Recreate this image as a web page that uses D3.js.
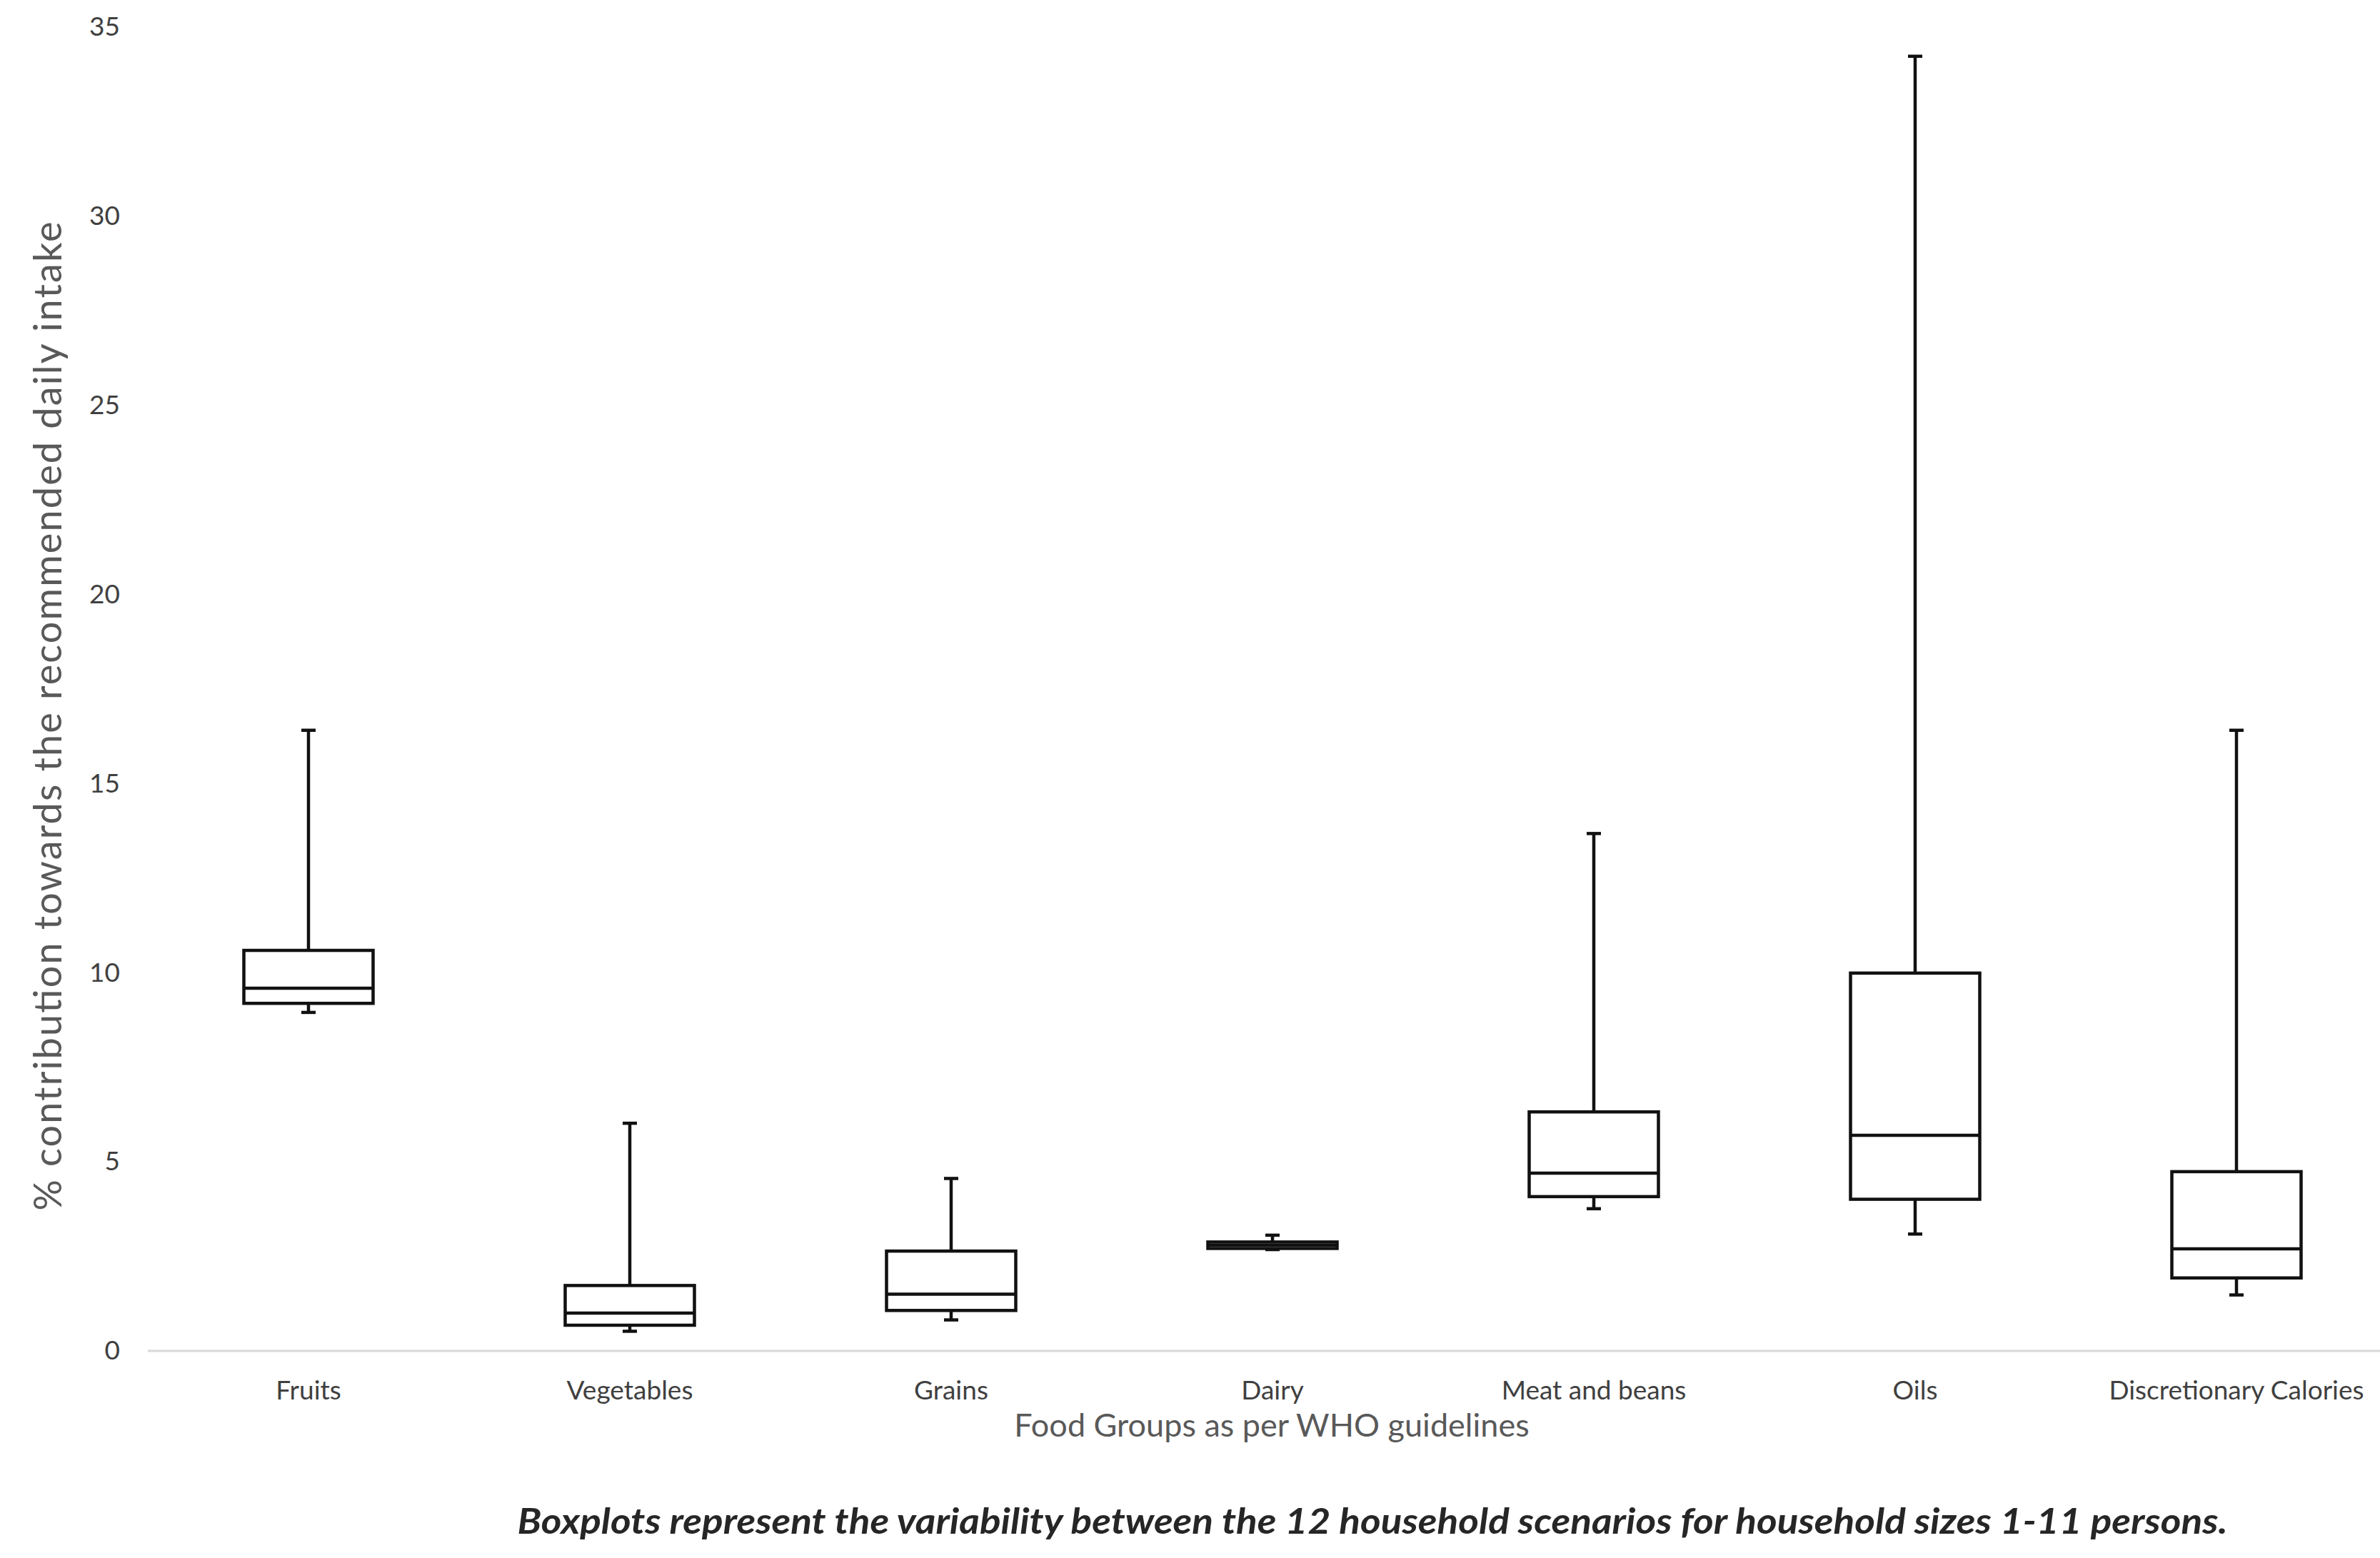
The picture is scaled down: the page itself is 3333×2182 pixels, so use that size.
<!DOCTYPE html>
<html>
<head>
<meta charset="utf-8">
<script src="https://cdn.jsdelivr.net/npm/d3@7"></script>
<style>
  body { margin: 0; background: #fff; overflow: hidden; }
  text { font-family: Lato, "Open Sans", sans-serif; }
</style>
</head>
<body>
<div id="vis"></div>
<script>
const groups = ["Fruits", "Vegetables", "Grains", "Dairy", "Meat and beans", "Oils", "Discretionary Calories"];
const whiskerMin = [8.95, 0.52, 0.82, 2.68, 3.76, 3.09, 1.48];
const q1 = [9.19, 0.68, 1.07, 2.71, 4.08, 4.01, 1.93];
const median = [9.59, 1.0, 1.5, 2.8, 4.7, 5.7, 2.7];
const q3 = [10.59, 1.73, 2.64, 2.88, 6.32, 9.99, 4.74];
const whiskerMax = [16.41, 6.02, 4.56, 3.06, 13.68, 34.23, 16.41];
const yTicks = [0, 5, 10, 15, 20, 25, 30, 35];

const W = 3333, H = 2182;
const margin = { top: 38, left: 207, bottom: 290 };
const plotBottom = H - margin.bottom;   // y of value 0

const svg = d3.select("#vis")
  .append("svg")
  .attr("width", W)
  .attr("height", H);

const x = d3.scaleBand()
  .domain(groups)
  .range([margin.left, margin.left + 7 * 450])
  .paddingInner(0)
  .paddingOuter(0);

const y = d3.scaleLinear()
  .domain([0, 35])
  .range([plotBottom, margin.top]);

const boxes = groups.map((g, i) => ({
  g, lo: whiskerMin[i], q1: q1[i], med: median[i], q3: q3[i], hi: whiskerMax[i]
}));

// zero baseline
svg.append("line")
  .attr("x1", margin.left)
  .attr("x2", W)
  .attr("y1", y(0))
  .attr("y2", y(0))
  .attr("stroke", "#d9d9d9")
  .attr("stroke-width", 3);

// Y AXIS
const yAxis = svg.append("g")
  .attr("transform", `translate(${margin.left - 39},0)`)
  .call(d3.axisLeft(y).tickValues(yTicks).tickSize(0).tickPadding(0));
yAxis.select(".domain").remove();
yAxis.selectAll("text")
  .attr("font-size", "37px")
  .attr("fill", "#404040")
  .style("font-family", "Lato, sans-serif");

// X AXIS labels
const xAxis = svg.append("g")
  .attr("transform", `translate(0,${plotBottom})`)
  .call(d3.axisBottom(x).tickSize(0).tickPadding(42));
xAxis.select(".domain").remove();
xAxis.selectAll("text")
  .attr("font-size", "37px")
  .attr("fill", "#404040")
  .style("font-family", "Lato, sans-serif");

// BOXPLOTS
const bw = 181, cap = 20;
const bx = svg.append("g")
  .attr("fill", "none")
  .attr("stroke", "#111")
  .attr("stroke-width", 4.5);

boxes.forEach(d => {
  const cx = x(d.g) + x.bandwidth() / 2;
  // whiskers
  bx.append("line").attr("x1", cx).attr("x2", cx).attr("y1", y(d.hi)).attr("y2", y(d.q3));
  bx.append("line").attr("x1", cx).attr("x2", cx).attr("y1", y(d.q1)).attr("y2", y(d.lo));
  bx.append("line").attr("x1", cx - cap / 2).attr("x2", cx + cap / 2).attr("y1", y(d.hi)).attr("y2", y(d.hi));
  bx.append("line").attr("x1", cx - cap / 2).attr("x2", cx + cap / 2).attr("y1", y(d.lo)).attr("y2", y(d.lo));
  // box
  bx.append("rect")
    .attr("x", cx - bw / 2)
    .attr("y", y(d.q3))
    .attr("width", bw)
    .attr("height", y(d.q1) - y(d.q3))
    .attr("fill", "#fff");
  // median
  bx.append("line").attr("x1", cx - bw / 2).attr("x2", cx + bw / 2).attr("y1", y(d.med)).attr("y2", y(d.med));
});

// AXIS TITLES
svg.append("text")
  .attr("transform", `translate(86, 1003) rotate(-90)`)
  .attr("text-anchor", "middle")
  .attr("font-size", "54px")
  .attr("fill", "#595959")
  .attr("textLength", 1385)
  .attr("lengthAdjust", "spacing")
  .text("% contribution towards the recommended daily intake");

svg.append("text")
  .attr("x", 1781)
  .attr("y", 2012)
  .attr("text-anchor", "middle")
  .attr("font-size", "45px")
  .attr("fill", "#595959")
  .text("Food Groups as per WHO guidelines");

// CAPTION
svg.append("text")
  .attr("x", 1922)
  .attr("y", 2148)
  .attr("text-anchor", "middle")
  .attr("font-size", "50px")
  .attr("font-weight", "bold")
  .attr("font-style", "italic")
  .attr("fill", "#262626")
  .attr("textLength", 2395)
  .attr("lengthAdjust", "spacingAndGlyphs")
  .text("Boxplots represent the variability between the 12 household scenarios for household sizes 1-11 persons.");
</script>
</body>
</html>
